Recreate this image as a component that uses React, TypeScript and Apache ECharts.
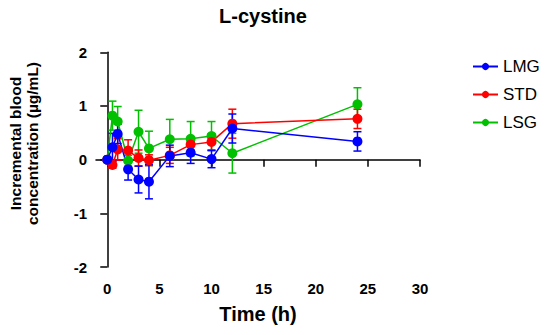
import React, { useEffect, useRef } from "react";
import * as echarts from "echarts";

const time = [0, 0.5, 1, 2, 3, 4, 6, 8, 10, 12, 24];
const lmg = [0.0, 0.23, 0.48, -0.18, -0.37, -0.41, 0.07, 0.13, 0.01, 0.58, 0.34];
const lmgSd = [0.05, 0.26, 0.18, 0.2, 0.25, 0.32, 0.2, 0.2, 0.16, 0.27, 0.18];
const std = [0.0, -0.1, 0.19, 0.17, 0.03, -0.01, 0.08, 0.28, 0.33, 0.67, 0.76];
const stdSd = [0.03, 0.06, 0.2, 0.2, 0.15, 0.1, 0.15, 0.1, 0.15, 0.27, 0.18];
const lsg = [0.0, 0.82, 0.71, -0.02, 0.52, 0.21, 0.38, 0.39, 0.44, 0.12, 1.03];
const lsgSd = [0.03, 0.27, 0.28, 0.1, 0.4, 0.32, 0.37, 0.32, 0.27, 0.37, 0.31];
const xTicks = [0, 5, 10, 15, 20, 25, 30];

const FONT = "Liberation Sans, Arial, sans-serif";

const groups = [
  { name: "LSG", vals: lsg, sd: lsgSd, color: "#00c000" },
  { name: "STD", vals: std, sd: stdSd, color: "#ff0000" },
  { name: "LMG", vals: lmg, sd: lmgSd, color: "#0000ff" },
];

function errSeries(g: any) {
  return {
    type: "custom",
    name: g.name + " err",
    silent: true,
    data: time.map((t, i) => [t, g.vals[i] - g.sd[i], g.vals[i] + g.sd[i]]),
    encode: { x: 0, y: [1, 2] },
    renderItem: (params: any, api: any) => {
      const x = api.value(0);
      const lo = api.coord([x, api.value(1)]);
      const hi = api.coord([x, api.value(2)]);
      const w = 4;
      const st = { stroke: g.color, lineWidth: 1.5 };
      return {
        type: "group",
        children: [
          { type: "line", shape: { x1: lo[0], y1: lo[1], x2: hi[0], y2: hi[1] }, style: st },
          { type: "line", shape: { x1: lo[0] - w, y1: lo[1], x2: lo[0] + w, y2: lo[1] }, style: st },
          { type: "line", shape: { x1: hi[0] - w, y1: hi[1], x2: hi[0] + w, y2: hi[1] }, style: st },
        ],
      };
    },
  };
}

function lineSeries(g: any) {
  return {
    type: "line",
    name: g.name,
    data: time.map((t, i) => [t, g.vals[i]]),
    symbol: "circle",
    symbolSize: 10,
    color: g.color,
    itemStyle: { color: g.color },
    lineStyle: { color: g.color, width: 1.5 },
  };
}

export default function App() {
  const ref = useRef<HTMLDivElement>(null);
  useEffect(() => {
    if (!ref.current) return;
    const chart = echarts.init(ref.current, undefined, { renderer: "svg" });
    const series: any[] = [];
    groups.forEach((g) => {
      series.push(errSeries(g));
      series.push(lineSeries(g));
    });
    chart.setOption({
      animation: false,
      backgroundColor: "#ffffff",
      title: {
        text: "L-cystine",
        left: 258,
        top: 1,
        textAlign: "center",
        textStyle: { fontFamily: FONT, fontSize: 20, fontWeight: "bold", color: "#000" },
      },
      legend: {
        data: ["LMG", "STD", "LSG"],
        orient: "vertical",
        left: 467,
        top: 53,
        itemWidth: 25,
        itemHeight: 9,
        itemGap: 11,
        textStyle: { fontFamily: FONT, fontSize: 17, color: "#000" },
      },
      grid: { left: 96, right: 130, top: 52.3, bottom: 68, containLabel: false },
      xAxis: {
        type: "value",
        min: -1.08,
        max: 30,
        name: "Time (h)",
        nameLocation: "middle",
        nameGap: 37,
        nameTextStyle: { fontFamily: FONT, fontSize: 20, fontWeight: "bold", color: "#000" },
        axisLine: { lineStyle: { color: "#000", width: 1.5 } },
        axisTick: { show: true, length: 7, customValues: xTicks, lineStyle: { color: "#000", width: 1.5 } },
        axisLabel: {
          customValues: xTicks,
          margin: 14,
          fontFamily: FONT,
          fontSize: 15,
          fontWeight: "bold",
          color: "#000",
        },
        splitLine: { show: false },
      },
      yAxis: {
        type: "value",
        min: -2,
        max: 2,
        interval: 1,
        axisLine: { show: true, lineStyle: { color: "#000", width: 1.5 } },
        axisTick: { show: true, length: 7, lineStyle: { color: "#000", width: 1.5 } },
        axisLabel: { margin: 9, fontFamily: FONT, fontSize: 15, fontWeight: "bold", color: "#000" },
        splitLine: { show: false },
      },
      graphic: [
        {
          type: "text",
          x: 24,
          y: 143.5,
          rotation: Math.PI / 2,
          style: {
            text: "Incremental blood\nconcentration (µg/mL)",
            fontFamily: FONT,
            fontSize: 15.5,
            fontWeight: "bold",
            lineHeight: 17,
            fill: "#000",
            textAlign: "center",
            textVerticalAlign: "middle",
          },
        },
      ],
      series,
    });
    return () => chart.dispose();
  }, []);
  return (
    <div
      ref={ref}
      style={{ position: "absolute", left: 0, top: 0, width: 550, height: 335 }}
    />
  );
}
